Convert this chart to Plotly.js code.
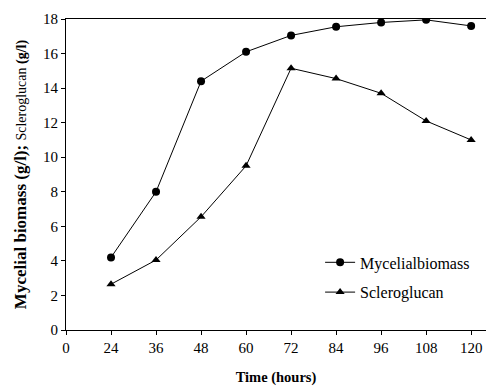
<!DOCTYPE html>
<html><head><meta charset="utf-8">
<script src="https://cdn.plot.ly/plotly-3.0.1.min.js"></script>
<style>html,body{margin:0;padding:0;background:#fff}</style>
</head><body><div id="chart" style="width:486px;height:387px"></div>
<script>
const timeLabels = ["0","24","36","48","60","72","84","96","108","120"];
const times = ["24","36","48","60","72","84","96","108","120"];
const biomass = [4.2, 8.0, 14.4, 16.1, 17.05, 17.55, 17.8, 17.95, 17.6];
const scleroglucan = [2.65, 4.05, 6.55, 9.5, 15.15, 14.55, 13.7, 12.1, 11.0];
const yTicks = [0,2,4,6,8,10,12,14,16,18];

const xIdx = times.map(t => timeLabels.indexOf(t));
const tickIdx = timeLabels.map((t,i)=>i);
const serif = "Liberation Serif, Times New Roman, serif";

const traces = [
  {x: xIdx, y: biomass, name: "Mycelialbiomass", mode: "lines+markers", legendgroup: "a",
   line: {color: "#000", width: 1}, marker: {symbol: "circle", size: 8, color: "#000"}},
  {x: xIdx, y: scleroglucan, name: "Scleroglucan", mode: "lines+markers", legendgroup: "b",
   line: {color: "#000", width: 1}, marker: {symbol: "triangle-up", size: 8, color: "#000"}}
];

const layout = {
  width: 486, height: 387,
  margin: {l: 66, r: 0, t: 19, b: 57},
  paper_bgcolor: "#fff", plot_bgcolor: "#fff",
  showlegend: true,
  legend: {x: 0.605, y: 0.272, xanchor: "left", yanchor: "top", tracegroupgap: 6,
    font: {family: serif, size: 16, color: "#000"}, bgcolor: "rgba(0,0,0,0)"},
  xaxis: {range: [0, 9.33], tickmode: "array", tickvals: tickIdx, ticktext: timeLabels,
    showline: true, linecolor: "#000", linewidth: 1, mirror: true, showgrid: false, zeroline: false,
    ticks: "outside", ticklen: 4, tickcolor: "#000",
    tickfont: {family: serif, size: 15, color: "#000"},
    title: {text: "<b>Time (hours)</b>", font: {family: serif, size: 14.5, color: "#000"}, standoff: 16}},
  yaxis: {range: [0, 18], tickmode: "array", tickvals: yTicks,
    showline: true, linecolor: "#000", linewidth: 1, showgrid: false, zeroline: false,
    ticks: "outside", ticklen: 4, tickcolor: "#000",
    tickfont: {family: serif, size: 15, color: "#000"},
    title: {text: "<b>Mycelial biomass (g/l);</b> <span style='font-size:14px'>Scleroglucan <b>(g/l)</b></span>",
      font: {family: serif, size: 17, color: "#000"}, standoff: 12}}
};

Plotly.newPlot("chart", traces, layout, {displayModeBar: false, staticPlot: true});
</script></body></html>
